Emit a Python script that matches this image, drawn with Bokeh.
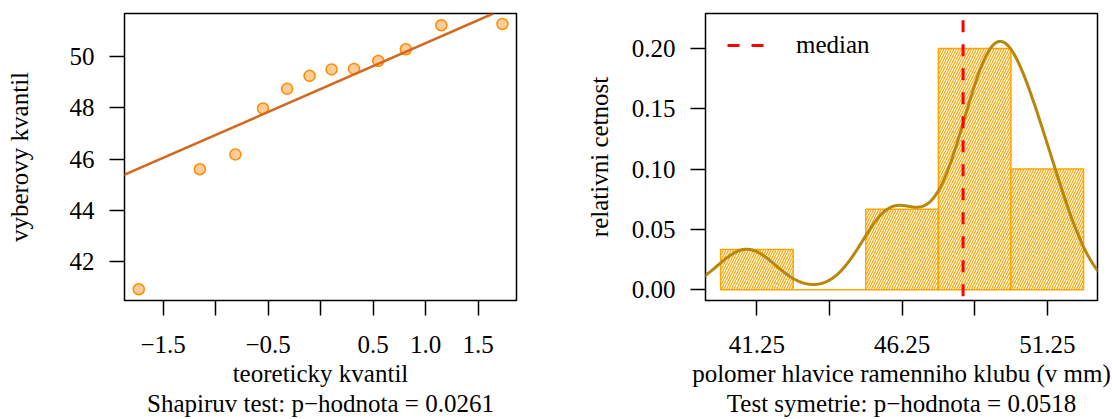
import numpy as np
from bokeh.plotting import figure
from bokeh.layouts import row
from bokeh.models import (Range1d, FixedTicker, CustomJSTickFormatter, NumeralTickFormatter,
                          Slope, Legend, LegendItem)
from bokeh.core.properties import value
from bokeh.embed import file_html
from bokeh.resources import INLINE

# Sorted sample: radius of the humeral head (mm)
radius_mm = [40.90, 45.60, 46.18, 47.98, 48.75, 49.26, 49.51, 49.53, 49.84, 50.30, 51.24, 51.29]
# Theoretical normal quantiles paired with the sorted sample
theor_q = [-1.732, -1.150, -0.812, -0.549, -0.319, -0.105, 0.105, 0.319, 0.549, 0.812, 1.150, 1.732]

# Histogram classes and axis ticks
hist_edges = [40.0, 42.5, 45.0, 47.5, 50.0, 52.5]
qq_xticks = [-1.5, -1.0, -0.5, 0.0, 0.5, 1.0, 1.5]
qq_yticks = [42, 44, 46, 48, 50]
hist_xticks = [41.25, 43.75, 46.25, 48.75, 51.25]
hist_yticks = [0.0, 0.05, 0.10, 0.15, 0.20]

median_mark = 48.35
kde_bandwidth = 0.99
shapiro_p = "0.0261"
symmetry_p = "0.0518"

FONT = "Liberation Serif"
FS = "25px"


def style(p):
    p.background_fill_color = "white"
    p.border_fill_color = "white"
    p.outline_line_color = "black"
    p.outline_line_width = 1.5
    p.xgrid.visible = False
    p.ygrid.visible = False
    for ax in p.axis:
        ax.axis_line_color = None
        ax.major_tick_in = 0
        ax.major_tick_out = 15
        ax.major_tick_line_color = "black"
        ax.major_tick_line_width = 1.5
        ax.minor_tick_line_color = None
        ax.major_label_text_font = FONT
        ax.major_label_text_font_size = FS
        ax.major_label_text_color = "black"
        ax.axis_label_text_font = FONT
        ax.axis_label_text_font_size = FS
        ax.axis_label_text_font_style = "normal"
        ax.axis_label_text_color = "black"
        ax.axis_label_text_line_height = 1.12
        ax.major_label_standoff = 15


sample = np.array(radius_mm)

# ---- normal Q-Q plot ----
p1 = figure(width=556, height=419, x_range=Range1d(-1.868, 1.866), y_range=Range1d(40.46, 51.70),
            output_backend="svg", toolbar_location=None,
            min_border_left=124, min_border_right=40, min_border_top=13, min_border_bottom=119)
style(p1)
p1.xaxis.ticker = FixedTicker(ticks=qq_xticks)
p1.xaxis.formatter = CustomJSTickFormatter(code="""
    if (Math.abs(tick + 1) < 1e-9 || Math.abs(tick) < 1e-9) return "";
    return tick.toFixed(1).replace("-", "\u2212");
""")
p1.yaxis.ticker = FixedTicker(ticks=qq_yticks)
p1.xaxis.axis_label = "teoreticky kvantil\nShapiruv test: p\u2212hodnota = " + shapiro_p
p1.yaxis.axis_label = "vyberovy kvantil"
p1.xaxis.major_label_standoff = 20
p1.xaxis.axis_label_standoff = 4
p1.yaxis.axis_label_standoff = 34

# reference line through the sample quartiles
q1, q3 = np.percentile(sample, [25, 75])
z75 = 0.6745
slope = (q3 - q1) / (2 * z75)
p1.add_layout(Slope(gradient=slope, y_intercept=(q1 + q3) / 2,
                    line_color="chocolate", line_width=2.5))
p1.scatter(theor_q, radius_mm, size=11, fill_color="#FFCC99", line_color="darkorange", line_width=1.5)

# ---- histogram with kernel density ----
p2 = figure(width=556, height=419, x_range=Range1d(39.48, 52.98), y_range=Range1d(-0.0089, 0.229),
            output_backend="svg", toolbar_location=None,
            min_border_left=149, min_border_right=15, min_border_top=13, min_border_bottom=119)
style(p2)
p2.xaxis.ticker = FixedTicker(ticks=hist_xticks)
p2.xaxis.formatter = CustomJSTickFormatter(code="""
    return (index % 2 == 0) ? tick.toFixed(2) : "";
""")
p2.yaxis.ticker = FixedTicker(ticks=hist_yticks)
p2.yaxis.formatter = NumeralTickFormatter(format="0.00")
p2.xaxis.axis_label = "polomer hlavice ramenniho klubu (v mm)\nTest symetrie: p\u2212hodnota = " + symmetry_p
p2.yaxis.axis_label = "relativni cetnost"
p2.xaxis.major_label_standoff = 20
p2.xaxis.axis_label_standoff = 4
p2.yaxis.axis_label_standoff = 16

dens, _ = np.histogram(sample, bins=hist_edges, density=True)
p2.quad(left=hist_edges[:-1], right=hist_edges[1:], bottom=0, top=dens,
        fill_color="white", line_color="orange", line_width=1.5,
        hatch_pattern="/", hatch_color="orange", hatch_scale=5, hatch_weight=1.2)

# Gaussian kernel density of the sample
kde_x = np.linspace(sample.min() - 3 * kde_bandwidth, sample.max() + 3 * kde_bandwidth, 512)
kde_y = np.exp(-0.5 * ((kde_x[:, None] - sample[None, :]) / kde_bandwidth) ** 2).sum(axis=1) \
    / (len(sample) * kde_bandwidth * np.sqrt(2 * np.pi))
p2.line(kde_x, kde_y, line_color="darkgoldenrod", line_width=3)

median_r = p2.segment(x0=[median_mark], y0=[-1], x1=[median_mark], y1=[1],
                      line_color="red", line_width=3, line_dash="12 12")

legend = Legend(items=[LegendItem(label=value("median"), renderers=[median_r])],
                location=(22, 241), padding=0, margin=0, spacing=0,
                glyph_width=37, glyph_height=20, label_height=20, label_standoff=32,
                label_text_font=FONT, label_text_font_size=FS, label_text_baseline="middle",
                label_text_color="black",
                background_fill_alpha=0, border_line_color=None)
p2.add_layout(legend)

layout = row(p1, p2, spacing=0)
open("out.html", "w").write(file_html(layout, INLINE))
